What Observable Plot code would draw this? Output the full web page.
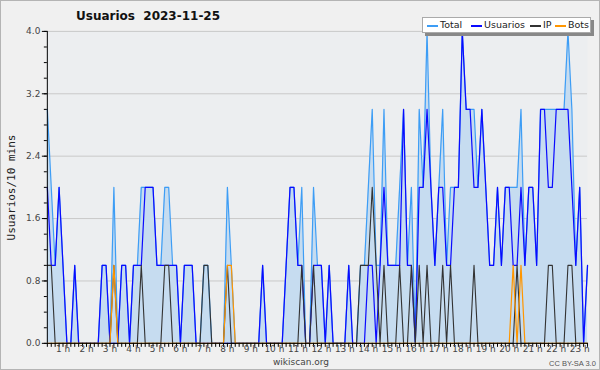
<!DOCTYPE html>
<html><head><meta charset="utf-8">
<script src="https://cdn.jsdelivr.net/npm/d3@7"></script>
<script src="https://cdn.jsdelivr.net/npm/@observablehq/plot@0.6"></script>
<style>
body{margin:0;background:#f0f0f0}
#wrap{position:relative;width:598px;height:368px;overflow:hidden;border:1px solid #b4b4b4;background:#f0f0f0;font-family:"DejaVu Sans",sans-serif}
#wrap svg{position:absolute;left:-1px;top:-1px}
.title{position:absolute;left:75px;top:8px;font-weight:bold;font-size:12px;color:#111;white-space:pre}
.ylab{position:absolute;left:-50px;top:180px;width:120px;text-align:center;transform:rotate(-90deg);font-family:"DejaVu Sans Mono",monospace;font-size:11px;color:#222}
.foot{position:absolute;left:250px;width:100px;top:356px;text-align:center;font-size:9px;color:#444}
.cc{position:absolute;left:548px;top:359px;font-family:"Liberation Sans",Arial,sans-serif;font-size:7.5px;color:#555;white-space:nowrap;line-height:8px}
.legend{position:absolute;left:421px;top:16px;width:167px;height:14px;background:#fff;border:1px solid #aaa;box-shadow:3px 3px 0 #888}
.legend .sw{position:absolute;top:7px;width:11px;height:1.5px}
.legend .tx{position:absolute;top:1px;font-size:9.5px;color:#222;white-space:nowrap}
</style></head><body><div id="wrap"></div>
<script>
const total    = [3,2,1,2,1,0,0,1,0,0, 0,0,0,0,1,1,0,2,0,1, 1,0,1,1,2,2,2,2,1,1, 2,2,1,1,0,1,1,1,0,0,
                  1,1,0,0,0,0,2,1,0,0, 0,0,0,0,0,1,0,0,0,0, 0,1,2,2,1,2,0,0,2,1, 1,0,1,0,0,0,0,1,0,0,
                  1,1,2,3,1,1,3,1,1,1, 2,3,1,2,0,3,2,4,2,1, 2,3,1,2,2,2,4,3,3,3, 2,3,2,1,1,2,1,2,2,2,
                  2,3,1,2,2,1,3,3,3,3, 3,3,3,4,3,1,2,0,1];
const usuarios = [2,1,1,2,1,0,0,1,0,0, 0,0,0,0,1,1,0,0,0,1, 1,0,1,1,1,2,2,2,1,1, 1,1,1,1,0,1,1,1,0,0,
                  0,0,0,0,0,0,0,0,0,0, 0,0,0,0,0,1,0,0,0,0, 0,1,2,2,1,1,0,0,1,1, 1,0,1,0,0,0,0,1,0,0,
                  0,0,1,1,0,1,2,1,1,1, 1,3,1,1,0,2,2,3,2,1, 2,2,1,1,2,2,4,3,3,2, 2,3,2,1,1,2,1,2,2,1,
                  1,2,1,2,2,1,3,3,2,2, 3,3,3,3,2,1,2,0,1];
const ip       = [1,1,0,0,0,0,0,0,0,0, 0,0,0,0,0,0,0,1,0,0, 0,0,0,0,1,0,0,0,0,0, 1,1,0,0,0,0,0,0,0,0,
                  1,1,0,0,0,0,1,0,0,0, 0,0,0,0,0,0,0,0,0,0, 0,0,0,0,0,1,0,0,1,0, 0,0,0,0,0,0,0,0,0,0,
                  1,1,1,2,1,0,1,0,0,0, 1,0,0,1,0,1,0,1,0,0, 0,1,0,1,0,0,0,0,0,1, 0,0,0,0,0,0,0,0,0,0,
                  1,0,0,0,0,0,0,0,1,1, 0,0,0,1,1,0,0,0,0];
const bots     = [0,0,0,0,0,0,0,0,0,0, 0,0,0,0,0,0,0,1,0,0, 0,0,0,0,0,0,0,0,0,0, 0,0,0,0,0,0,0,0,0,0,
                  0,0,0,0,0,0,1,1,0,0, 0,0,0,0,0,0,0,0,0,0, 0,0,0,0,0,0,0,0,0,0, 0,0,0,0,0,0,0,0,0,0,
                  0,0,0,0,0,0,0,0,0,0, 0,0,0,0,0,0,0,0,0,0, 0,0,0,0,0,0,0,0,0,0, 0,0,0,0,0,0,0,0,0,1,
                  0,1,0,0,0,0,0,0,0,0, 0,0,0,0,0,0,0,0,0];
const hours = d3.range(1, 24);
const yTicks = [0, 0.8, 1.6, 2.4, 3.2, 4.0];
const seriesNames = ["Total", "Usuarios", "IP", "Bots"];
const seriesColors = ["#3d9df5", "#0a0aff", "#333333", "#ff9600"];
const firstSlot = 2; // first sample is the 3rd 10-minute slot

const data = total.map((t, k) => ({h: (k + firstSlot) / 6, total: t, usuarios: usuarios[k], ip: ip[k], bots: bots[k]}));
const x0 = data[0].h, x1 = data[data.length - 1].h;

const chart = Plot.plot({
  width: 600, height: 370,
  marginLeft: 47, marginRight: 11, marginTop: 31, marginBottom: 26,
  style: {background: "transparent", fontFamily: "DejaVu Sans", fontSize: "9px", color: "#000"},
  x: {domain: [x0, x1], axis: null, label: null},
  y: {domain: [0, 4], axis: null, label: null},
  marks: [
    Plot.frame({fill: "#eceef0", stroke: null}),
    Plot.ruleY(yTicks.slice(1), {stroke: "#c9c9c9", strokeWidth: 1}),
    Plot.areaY(data, {x: "h", y: "total", fill: "#c6dcf0", curve: "linear"}),
    Plot.lineY(data, {x: "h", y: "total", stroke: seriesColors[0], strokeWidth: 1.2}),
    Plot.lineY(data, {x: "h", y: "usuarios", stroke: seriesColors[1], strokeWidth: 1.2}),
    Plot.lineY(data, {x: "h", y: "ip", stroke: seriesColors[2], strokeWidth: 1.1}),
    Plot.lineY(data, {x: "h", y: "bots", stroke: seriesColors[3], strokeWidth: 1.2}),
    Plot.axisY({ticks: d3.range(0, 4.01, 0.2), tickSize: 3, text: null, label: null, stroke: "#000"}),
    Plot.axisY({ticks: yTicks, tickSize: 5, tickPadding: 2, label: null, tickFormat: d3.format(".1f"), fill: "#444", fontSize: 9}),
    Plot.axisX({ticks: data.map(d => d.h), tickSize: 4, text: null, label: null, stroke: "#000"}),
    Plot.axisX({ticks: hours, tickSize: 0, tickPadding: 2, label: null, tickFormat: d => d + " h", fill: "#444", fontSize: 9}),
    Plot.ruleX([x0], {stroke: "#000"}),
    Plot.ruleY([0], {stroke: "#000"})
  ]
});

const wrap = document.getElementById("wrap");
wrap.appendChild(chart);
const swX = [4, 48, 107, 132];
const txX = [17, 61, 120, 145];
const legendItems = seriesNames.map((n, k) =>
  `<span class="sw" style="left:${swX[k]}px;background:${seriesColors[k]}"></span><span class="tx" style="left:${txX[k]}px">${n}</span>`).join("");
wrap.insertAdjacentHTML("beforeend", `
  <div class="title">Usuarios  2023-11-25</div>
  <div class="ylab">Usuarios/10 mins</div>
  <div class="foot">wikiscan.org</div>
  <div class="cc">CC BY-SA 3.0</div>
  <div class="legend">${legendItems}</div>`);
</script>
</body></html>
